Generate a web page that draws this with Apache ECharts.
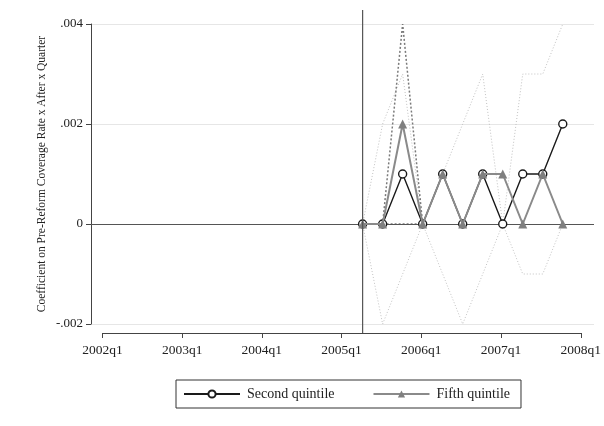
<!DOCTYPE html>
<html>
<head>
<meta charset="utf-8">
<script src="https://cdn.jsdelivr.net/npm/echarts@6/dist/echarts.min.js"></script>
<style>
html,body{margin:0;padding:0;background:#fff;}
#chart{width:604px;height:426px;}
</style>
</head>
<body>
<div id="chart"></div>
<script>
// ---- data ----
var quarters = ['2005q2','2005q3','2005q4','2006q1','2006q2','2006q3','2006q4','2007q1','2007q2','2007q3','2007q4'];
var secondQuintile = [0, 0, 0.001, 0, 0.001, 0, 0.001, 0, 0.001, 0.001, 0.002];
var fifthQuintile  = [0, 0, 0.002, 0, 0.001, 0, 0.001, 0.001, 0, 0.001, 0];
var secondUpper = [0, 0.002, 0.003, 0, 0.001, 0.002, 0.003, 0, 0.003, 0.003, 0.004];
var secondLower = [0, -0.002, -0.001, 0, -0.001, -0.002, -0.001, 0, -0.001, -0.001, 0];
var fifthUpper  = [0, 0, 0.004, 0, null, null, null, null, null, null, null];
var fifthLower  = [0, 0, 0, 0, null, null, null, null, null, null, null];
var xTickLabels = ['2002q1','2003q1','2004q1','2005q1','2006q1','2007q1','2008q1'];
var yTickValues = [-0.002, 0, 0.002, 0.004];
var yTickLabels = ['-.002', '0', '.002', '.004'];
var reformQuarter = '2005q2';
var yTitle = 'Coefficient on Pre-Reform Coverage Rate x After x Quarter';
var legendNames = ['Second quintile', 'Fifth quintile'];

// quarter string -> index (2002q1 = 0)
function qIndex(s) {
  var y = parseInt(s.slice(0, 4), 10), q = parseInt(s.slice(5), 10);
  return (y - 2002) * 4 + (q - 1);
}
function pairs(vals) {
  return quarters.map(function (q, i) { return [qIndex(q), vals[i]]; });
}

var FONT = '"Liberation Serif", "DejaVu Serif", serif';
var chart = echarts.init(document.getElementById('chart'), null, {renderer: 'canvas'});

var option = {
  backgroundColor: '#fff',
  animation: false,
  textStyle: {fontFamily: FONT},
  grid: [
    {left: 91, right: 10, top: 24, height: 300},
    {left: 102.4, width: 480.3, top: 332, height: 1}
  ],
  xAxis: [
    {type: 'value', gridIndex: 0, min: -0.57, max: 24.56, show: false},
    {type: 'value', gridIndex: 1, min: 0, max: 24, interval: 4,
     axisLine: {show: true, lineStyle: {color: '#444', width: 1}},
     axisTick: {show: true, length: 5, lineStyle: {color: '#444'}},
     splitLine: {show: false},
     axisLabel: {margin: 10, color: '#222', fontSize: 13.5, fontFamily: FONT,
       formatter: function (v) { return xTickLabels[Math.round(v / 4)]; }}}
  ],
  yAxis: [
    {type: 'value', gridIndex: 0, min: -0.002, max: 0.004, interval: 0.002,
     name: yTitle, nameLocation: 'middle', nameGap: 43, nameMoveOverlap: false,
     nameTextStyle: {fontSize: 11.5, color: '#222', fontFamily: FONT},
     axisLine: {show: true, onZero: false, lineStyle: {color: '#444', width: 1}},
     axisTick: {show: true, length: 5, lineStyle: {color: '#444'}},
     splitLine: {show: true, lineStyle: {color: '#e6e6e6', width: 1}},
     axisLabel: {margin: 8, color: '#222', fontSize: 13, fontFamily: FONT,
       formatter: function (v) {
         for (var i = 0; i < yTickValues.length; i++) {
           if (Math.abs(yTickValues[i] - v) < 1e-9) return yTickLabels[i];
         }
         return '';
       }}},
    {type: 'value', gridIndex: 1, show: false, min: 0, max: 1}
  ],
  legend: {
    data: legendNames,
    left: 176, top: 380,
    itemWidth: 56, itemHeight: 9, itemGap: 38,
    padding: [7, 11, 7, 7],
    borderColor: '#333', borderWidth: 1,
    textStyle: {fontSize: 14, color: '#222', fontFamily: FONT, padding: [0, 0, 0, 2]}
  },
  series: [
    {name: 'secondUpperCI', type: 'line', data: pairs(secondUpper), symbol: 'none',
     lineStyle: {color: '#c2c2c2', width: 1, type: [1, 2]}, z: 2, silent: true},
    {name: 'secondLowerCI', type: 'line', data: pairs(secondLower), symbol: 'none',
     lineStyle: {color: '#c2c2c2', width: 1, type: [1, 2]}, z: 2, silent: true},
    {name: 'fifthUpperCI', type: 'line', data: pairs(fifthUpper), symbol: 'none',
     lineStyle: {color: '#7a7a7a', width: 1.5, type: [2, 2]}, z: 3, silent: true},
    {name: 'fifthLowerCI', type: 'line', data: pairs(fifthLower), symbol: 'none',
     lineStyle: {color: '#7a7a7a', width: 1.5, type: [2, 2]}, z: 3, silent: true,
     markLine: {silent: true, symbol: 'none', label: {show: false},
       lineStyle: {color: '#555', width: 1.2, type: 'solid'},
       data: [{yAxis: 0}]}},
    {name: legendNames[0], type: 'line', data: pairs(secondQuintile),
     symbol: 'circle', symbolSize: 8, showAllSymbol: true,
     lineStyle: {color: '#1a1a1a', width: 1.4},
     itemStyle: {color: '#fff', borderColor: '#1a1a1a', borderWidth: 1.4}, z: 5},
    {name: legendNames[1], type: 'line', data: pairs(fifthQuintile),
     symbol: 'triangle', symbolSize: 9, showAllSymbol: true,
     lineStyle: {color: '#8a8a8a', width: 2},
     itemStyle: {color: '#7f7f7f', borderColor: '#7f7f7f', borderWidth: 0}, z: 6}
  ]
};
chart.setOption(option);

// vertical reform line through the library's x scale
var rx = chart.convertToPixel({xAxisIndex: 0}, qIndex(reformQuarter));
chart.setOption({
  graphic: [{
    type: 'line', z: 10, silent: true,
    shape: {x1: rx, y1: 10, x2: rx, y2: 333},
    style: {stroke: '#555', lineWidth: 1.2}
  }]
});
</script>
</body>
</html>
